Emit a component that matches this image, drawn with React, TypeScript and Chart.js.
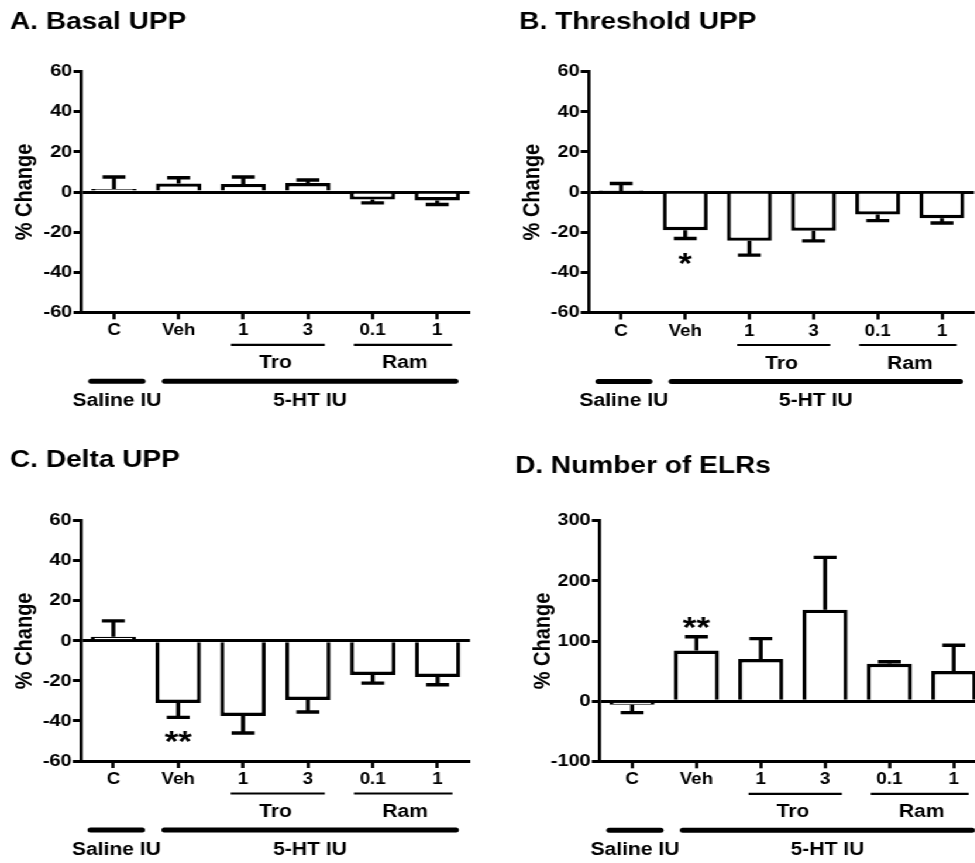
import React, { useEffect, useRef } from 'react';
import { Chart, registerables } from 'chart.js';

Chart.register(...registerables);

// ---------------- DATA ----------------
const categories = ['C', 'Veh', '1', '3', '0.1', '1'];
const subGroupLabels = ['Tro', 'Ram'];
const subGroupRanges = [[2, 3], [4, 5]];
const mainGroupLabels = ['Saline IU', '5-HT IU'];
const mainGroupRanges = [[0, 0], [1, 5]];

const panelTitles = ['A. Basal UPP', 'B. Threshold UPP', 'C. Delta UPP', 'D. Number of ELRs'];
const yAxisTitle = '% Change';

const basalMeans = [1.5, 4.3, 4.0, 4.5, -3.7, -4.2];
const basalErrors = [6.0, 2.8, 3.5, 1.5, 1.7, 2.0];
const basalStars = ['', '', '', '', '', ''];

const thresholdMeans = [0.5, -19.0, -24.3, -19.3, -11.2, -13.0];
const thresholdErrors = [3.8, 4.1, 7.1, 5.0, 3.0, 2.4];
const thresholdStars = ['', '*', '', '', '', ''];

const deltaMeans = [2.0, -31.0, -37.5, -29.5, -17.0, -18.0];
const deltaErrors = [8.0, 7.2, 8.5, 6.0, 4.1, 3.9];
const deltaStars = ['', '**', '', '', '', ''];

const elrMeans = [-6, 84, 70, 152, 62, 50];
const elrErrors = [13, 23, 34, 87, 3.5, 43];
const elrStars = ['', '**', '', '', '', ''];

const yTicksUPP = [-60, -40, -20, 0, 20, 40, 60];
const yTicksELR = [-100, 0, 100, 200, 300];

// ---------------- STYLE ----------------
const SX = 1.17; // horizontal stretch of the original figure
const FONT = '"Liberation Sans", Arial, Helvetica, sans-serif';
const XH = 36; // x-axis box height
const CAP = 9.8;
const ERR_W = 3.4;
const BAR_W = 3.4;
const AXIS_W = 3.0;
const SUB_PAD = [[0.19, 0.26], [0.29, 0.23]];
const MAIN_PAD = [[0.39, 0.48], [0.25, 0.32]];

type Layout = {
  left: number; top: number; w: number; h: number;
  axisX: number; right: number; plotTop: number; plotBottom: number;
  titleX: number; titleY: number;
};

const layouts: Layout[] = [
  { left: 0, top: 0, w: 420, h: 430, axisX: 69.8, right: 401.3, plotTop: 71.7, plotBottom: 312.3, titleX: 8.5, titleY: 29 },
  { left: 420, top: 0, w: 420, h: 430, axisX: 83.4, right: 412.5, plotTop: 71.7, plotBottom: 312.5, titleX: 23.8, titleY: 28.5 },
  { left: 0, top: 440, w: 420, h: 423, axisX: 69.2, right: 401.7, plotTop: 80.7, plotBottom: 321, titleX: 8.5, titleY: 27.3 },
  { left: 420, top: 440, w: 430, h: 423, axisX: 92.8, right: 422.7, plotTop: 80.7, plotBottom: 321.3, titleX: 20.2, titleY: 33 },
];

type PanelSpec = { title: string; means: number[]; errors: number[]; stars: string[]; ticks: number[] };

const panels: PanelSpec[] = [
  { title: panelTitles[0], means: basalMeans, errors: basalErrors, stars: basalStars, ticks: yTicksUPP },
  { title: panelTitles[1], means: thresholdMeans, errors: thresholdErrors, stars: thresholdStars, ticks: yTicksUPP },
  { title: panelTitles[2], means: deltaMeans, errors: deltaErrors, stars: deltaStars, ticks: yTicksUPP },
  { title: panelTitles[3], means: elrMeans, errors: elrErrors, stars: elrStars, ticks: yTicksELR },
];

function makeDecor(p: PanelSpec, L: Layout) {
  return {
    id: 'decor',
    afterDatasetsDraw(chart: any) {
      const ctx = chart.ctx;
      const xs = chart.scales.x;
      const ys = chart.scales.y;
      ctx.save();
      ctx.strokeStyle = '#000';
      ctx.fillStyle = '#000';
      ctx.lineWidth = ERR_W;
      ctx.lineCap = 'butt';
      p.means.forEach((m, i) => {
        const e = p.errors[i];
        const dir = m >= 0 ? 1 : -1;
        const x = xs.getPixelForValue(i);
        const y0 = ys.getPixelForValue(m);
        const y1 = ys.getPixelForValue(m + dir * e);
        ctx.beginPath();
        ctx.moveTo(x, y0);
        ctx.lineTo(x, y1);
        ctx.moveTo(x - CAP, y1);
        ctx.lineTo(x + CAP, y1);
        ctx.stroke();
        if (p.stars[i]) {
          const fs = 30;
          ctx.font = `bold ${fs}px ${FONT}`;
          ctx.textAlign = 'center';
          ctx.textBaseline = 'alphabetic';
          const cy = y1 - dir * 17;
          ctx.fillText(p.stars[i], x, cy + 0.57 * fs);
        }
      });
      ctx.restore();
    },
    afterDraw(chart: any) {
      const ctx = chart.ctx;
      const xs = chart.scales.x;
      const b = chart.chartArea.bottom;
      const step = xs.getPixelForValue(1) - xs.getPixelForValue(0);
      ctx.save();
      ctx.fillStyle = '#000';
      ctx.strokeStyle = '#000';
      // title
      ctx.font = `bold 24px ${FONT}`;
      ctx.textAlign = 'left';
      ctx.textBaseline = 'alphabetic';
      ctx.fillText(p.title, L.titleX, L.titleY);
      // sub groups
      ctx.font = `bold 18px ${FONT}`;
      ctx.textAlign = 'center';
      subGroupRanges.forEach(([a, z], k) => {
        const pa = xs.getPixelForValue(a);
        const pz = xs.getPixelForValue(z);
        ctx.lineWidth = 2.2;
        ctx.lineCap = 'butt';
        ctx.beginPath();
        ctx.moveTo(pa - SUB_PAD[k][0] * step, b + 32.5);
        ctx.lineTo(pz + SUB_PAD[k][1] * step, b + 32.5);
        ctx.stroke();
        ctx.fillText(subGroupLabels[k], (pa + pz) / 2, b + 56);
      });
      // main groups
      mainGroupRanges.forEach(([a, z], k) => {
        const xa = xs.getPixelForValue(a) - MAIN_PAD[k][0] * step;
        const xz = xs.getPixelForValue(z) + MAIN_PAD[k][1] * step;
        ctx.lineWidth = 5;
        ctx.lineCap = 'round';
        ctx.beginPath();
        ctx.moveTo(xa + 2, b + 69);
        ctx.lineTo(xz - 2, b + 69);
        ctx.stroke();
        ctx.fillText(mainGroupLabels[k], (xa + xz) / 2, b + 93.5);
      });
      ctx.restore();
    },
  };
}

function Panel({ spec, layout }: { spec: PanelSpec; layout: Layout }) {
  const ref = useRef<HTMLCanvasElement>(null);
  useEffect(() => {
    const canvas = ref.current;
    if (!canvas) return;
    const t = spec.ticks;
    const chart = new Chart(canvas, {
      type: 'bar',
      data: {
        labels: categories,
        datasets: [
          {
            data: spec.means,
            backgroundColor: '#ffffff',
            borderColor: '#000000',
            borderWidth: BAR_W,
            borderSkipped: 'start',
            barPercentage: 0.7,
            categoryPercentage: 1.0,
          },
        ],
      },
      options: {
        animation: false,
        responsive: false,
        devicePixelRatio: 1,
        events: [],
        layout: {
          padding: {
            left: 0,
            right: layout.w - layout.right,
            top: layout.plotTop,
            bottom: layout.h - layout.plotBottom - XH,
          },
        },
        plugins: {
          legend: { display: false },
          tooltip: { enabled: false },
          title: { display: false },
        },
        scales: {
          x: {
            type: 'category',
            offset: true,
            afterFit: (s: any) => { s.height = XH; },
            grid: {
              display: true,
              offset: false,
              drawOnChartArea: false,
              drawTicks: true,
              tickLength: 7,
              tickColor: '#000',
              tickWidth: 2.7,
              color: '#000',
            },
            border: { display: true, color: '#000', width: AXIS_W },
            ticks: {
              color: '#000',
              padding: 2,
              maxRotation: 0,
              autoSkip: false,
              font: { family: FONT, size: 16, weight: 'bold' },
            },
          },
          y: {
            min: t[0],
            max: t[t.length - 1],
            z: 1,
            afterFit: (s: any) => { s.width = layout.axisX; },
            grid: {
              display: true,
              drawOnChartArea: true,
              drawTicks: true,
              color: (c: any) => (c.tick && c.tick.value === 0 ? '#000' : 'rgba(0,0,0,0)'),
              lineWidth: AXIS_W,
              tickLength: 7,
              tickColor: '#000',
              tickWidth: AXIS_W,
            },
            border: { display: true, color: '#000', width: 2.7 },
            ticks: {
              stepSize: t[1] - t[0],
              color: '#000',
              padding: 1,
              font: { family: FONT, size: 17, weight: 'bold' },
            },
            title: {
              display: true,
              text: yAxisTitle,
              color: '#000',
              font: { family: FONT, size: 20, weight: 'bold' },
              padding: { top: layout.axisX - 48 - 12, bottom: 0 },
            },
          },
        },
      },
      plugins: [makeDecor(spec, layout)],
    } as any);
    return () => chart.destroy();
  }, []);
  return (
    <canvas
      ref={ref}
      width={layout.w}
      height={layout.h}
      style={{ position: 'absolute', left: layout.left, top: layout.top, width: layout.w, height: layout.h }}
    />
  );
}

export default function App() {
  return (
    <div style={{ position: 'absolute', left: 0, top: 0, width: 975, height: 863, overflow: 'hidden', background: '#fff' }}>
      <div
        style={{
          position: 'absolute',
          left: 0,
          top: 0,
          width: 975 / SX,
          height: 863,
          transform: `scaleX(${SX})`,
          transformOrigin: '0 0',
        }}
      >
        {panels.map((p, i) => (
          <Panel key={i} spec={p} layout={layouts[i]} />
        ))}
      </div>
    </div>
  );
}
